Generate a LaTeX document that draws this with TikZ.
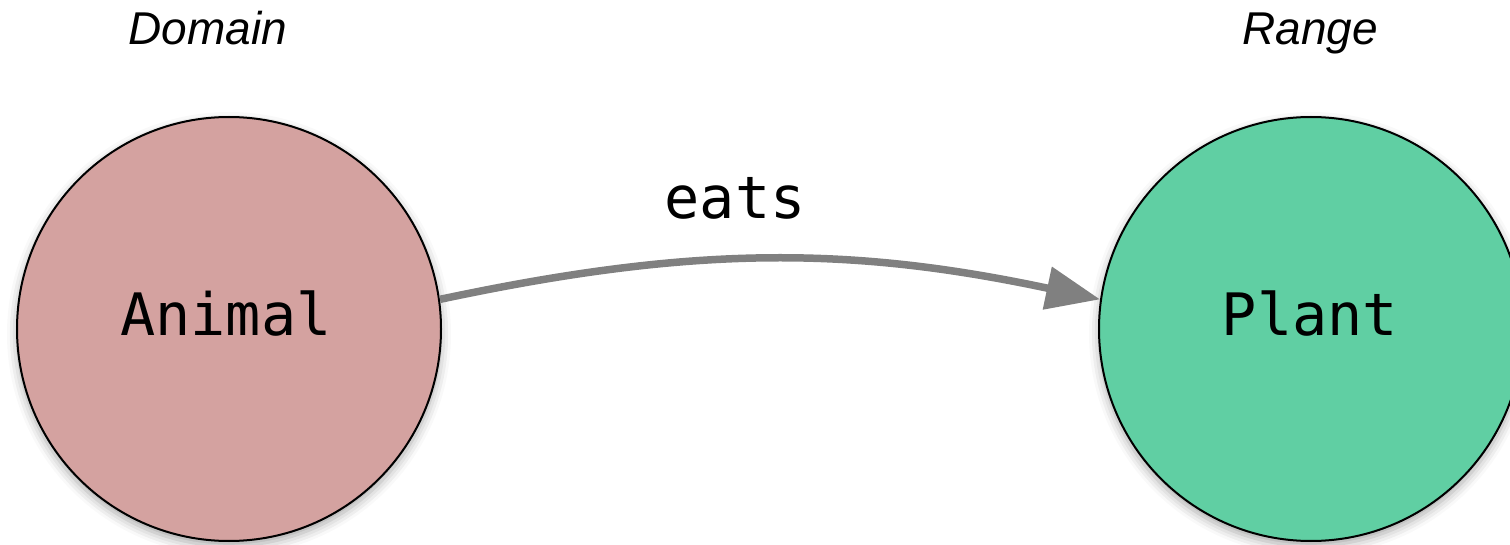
\documentclass[tikz,border=0pt]{standalone}
\usepackage{fontspec}
\usetikzlibrary{arrows.meta,shadows.blur}
\newfontfamily\monofont{DejaVu Sans Mono}
\newfontfamily\labelfont{Liberation Sans}
\definecolor{animalfill}{HTML}{D4A2A0}
\definecolor{plantfill}{HTML}{60CFA3}
\definecolor{arrowgray}{HTML}{808080}
\tikzset{
  classnode/.style={circle, draw=black, line width=2pt, minimum size=424pt, inner sep=0pt,
    blur shadow={shadow xshift=0pt, shadow yshift=-5pt, shadow blur radius=10pt, shadow opacity=35}},
  headlabel/.style={anchor=base, font=\labelfont\itshape\fontsize{46}{50}\selectfont},
  proplabel/.style={anchor=base, font=\monofont\fontsize{58.5}{60}\selectfont},
  proparrow/.style={draw=arrowgray, line width=7.5pt, -{Triangle[length=54pt,width=42pt]}}
}
\begin{document}
\begin{tikzpicture}[x=1pt,y=1pt]
\useasboundingbox (0,0) rectangle (1510,-545);
\node[headlabel] (domain) at (208,-45) {Domain};
\node[headlabel] (range) at (1310,-45) {Range};
\node[classnode, fill=animalfill] (animal) at (229,-329) {};
\node[classnode, fill=plantfill] (plant) at (1311,-329) {};
\node[proplabel] (animaltext) at (226,-336) {Animal};
\node[proplabel] (planttext) at (1310,-336) {Plant};
\node[proplabel] (eats) at (735,-219) {eats};
\draw[proparrow] (animal.8) to[bend left=12] (plant.172);
\end{tikzpicture}
\end{document}
